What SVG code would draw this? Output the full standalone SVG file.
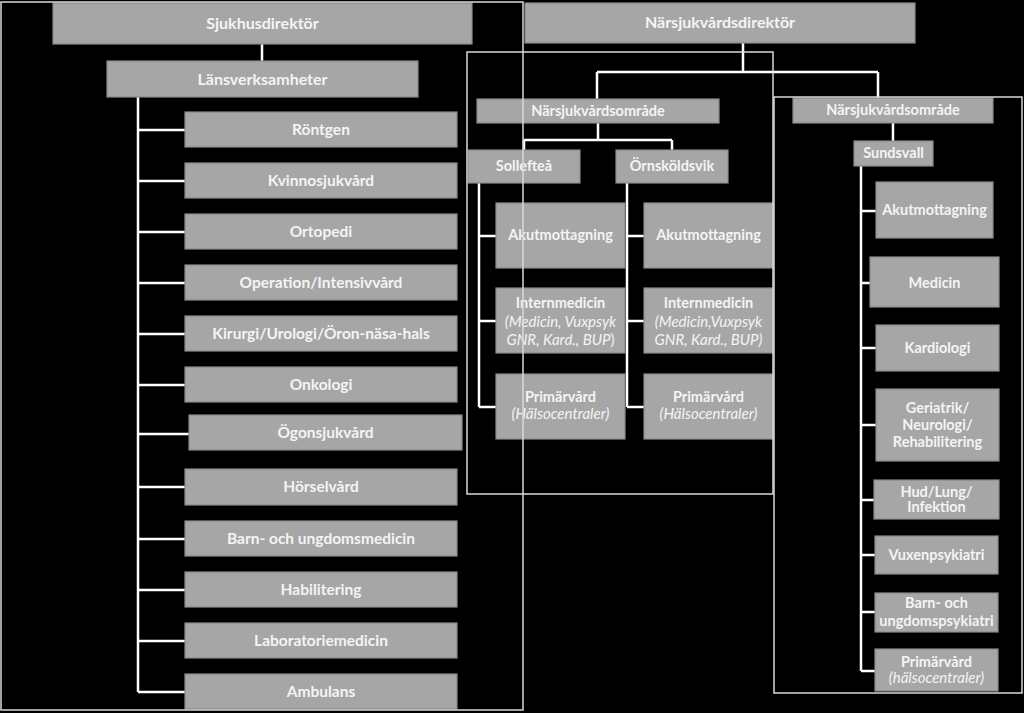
<svg xmlns="http://www.w3.org/2000/svg" width="1024" height="713" viewBox="0 0 1024 713">
<style>
.bg{fill:#000}
.box{fill:#a6a6a6;stroke:#8a8a8a;stroke-width:1.2}
.t{font-family:Lato,"Liberation Sans",sans-serif;font-weight:bold;fill:#f4f4f4;text-anchor:middle;font-size:14.5px}
.tl{font-size:15.5px}
.th{font-size:16px}
.ti{font-weight:normal;font-style:italic;font-size:15px}
.up{font-style:normal}
.conn{stroke:#ffffff;stroke-width:2.5;fill:none}
.frame{stroke:#d9d9d9;stroke-width:1.5;fill:none}
</style>
<rect class="bg" x="0" y="0" width="1024" height="713"/>

<g id="connectors">
<path class="conn" d="M262,44V61M138,97V692M138,130H185M138,181H185M138,232H185M138,283H185M138,334H185M138,385H185M138,434H189M138,487H185M138,539H185M138,590H185M138,641H185M138,692H185"/>
<path class="conn" d="M743,43V72M597,72H878M597,72V99M878,72V98M598,123V140M524,140H672M524,140V150M672,140V150"/>
<path class="conn" d="M479,183V407M479,236H496M479,321H496M479,407H496M627,183V407M627,236H644M627,321H644M627,407H644"/>
<path class="conn" d="M893,123V141M861,166V671M861,211H876M861,283H870M861,348H876M861,425H876M861,500H874M861,555H875M861,612H875M861,671H875"/>
</g>

<g id="sjukhusdirektor"><rect class="box" x="53" y="3" width="419" height="41"/><text class="t th" x="262.5" y="29">Sjukhusdirektör</text></g>
<g id="lansverksamheter"><rect class="box" x="107" y="61" width="311" height="36"/><text class="t th" x="262.5" y="85">Länsverksamheter</text></g>
<g id="rontgen"><rect class="box" x="185" y="112" width="272" height="35"/><text class="t tl" x="321" y="135">Röntgen</text></g>
<g id="kvinnosjukvard"><rect class="box" x="185" y="163" width="272" height="35"/><text class="t tl" x="321" y="186">Kvinnosjukvård</text></g>
<g id="ortopedi"><rect class="box" x="185" y="214" width="272" height="35"/><text class="t tl" x="321" y="237">Ortopedi</text></g>
<g id="operation"><rect class="box" x="185" y="265" width="272" height="35"/><text class="t tl" x="321" y="288">Operation/Intensivvård</text></g>
<g id="kirurgi"><rect class="box" x="185" y="316" width="272" height="35"/><text class="t tl" x="321" y="339">Kirurgi/Urologi/Öron-näsa-hals</text></g>
<g id="onkologi"><rect class="box" x="185" y="367" width="272" height="35"/><text class="t tl" x="321" y="390">Onkologi</text></g>
<g id="ogonsjukvard"><rect class="box" x="189" y="415" width="273" height="35"/><text class="t tl" x="325.5" y="438">Ögonsjukvård</text></g>
<g id="horselvard"><rect class="box" x="185" y="469" width="272" height="36"/><text class="t tl" x="321" y="492">Hörselvård</text></g>
<g id="barnmedicin"><rect class="box" x="185" y="521" width="272" height="35"/><text class="t tl" x="321" y="544">Barn- och ungdomsmedicin</text></g>
<g id="habilitering"><rect class="box" x="185" y="572" width="272" height="35"/><text class="t tl" x="321" y="595">Habilitering</text></g>
<g id="laboratoriemedicin"><rect class="box" x="185" y="623" width="272" height="35"/><text class="t tl" x="321" y="646">Laboratoriemedicin</text></g>
<g id="ambulans"><rect class="box" x="185" y="674" width="272" height="35"/><text class="t tl" x="321" y="697">Ambulans</text></g>

<g id="narsjukvardsdirektor"><rect class="box" x="525" y="3" width="390" height="40"/><text class="t th" x="720" y="28">Närsjukvårdsdirektör</text></g>
<g id="omrade1"><rect class="box" x="477" y="99" width="242" height="24"/><text class="t" x="598" y="116">Närsjukvårdsområde</text></g>
<g id="solleftea"><rect class="box" x="468" y="150" width="112" height="33"/><text class="t" x="524" y="171">Sollefteå</text></g>
<g id="ornskoldsvik"><rect class="box" x="616" y="150" width="112" height="33"/><text class="t" x="672" y="171">Örnsköldsvik</text></g>
<g id="akut1"><rect class="box" x="496" y="203" width="129" height="65"/><text class="t" x="560.5" y="240">Akutmottagning</text></g>
<g id="intern1"><rect class="box" x="496" y="288" width="129" height="65"/><text class="t" x="560.5" y="308">Internmedicin</text><text class="t ti" x="560.5" y="327">(Medicin, Vuxpsyk</text><text class="t ti" x="560.5" y="345">GNR, Kard., BUP<tspan class="up">)</tspan></text></g>
<g id="prim1"><rect class="box" x="496" y="374" width="129" height="65"/><text class="t" x="560.5" y="402">Primärvård</text><text class="t ti" x="560.5" y="419">(Hälsocentraler)</text></g>
<g id="akut2"><rect class="box" x="644" y="203" width="129" height="65"/><text class="t" x="708.5" y="240">Akutmottagning</text></g>
<g id="intern2"><rect class="box" x="644" y="288" width="129" height="65"/><text class="t" x="708.5" y="308">Internmedicin</text><text class="t ti" x="708.5" y="327">(Medicin,Vuxpsyk</text><text class="t ti" x="708.5" y="345">GNR, Kard., BUP)</text></g>
<g id="prim2"><rect class="box" x="644" y="374" width="129" height="65"/><text class="t" x="708.5" y="402">Primärvård</text><text class="t ti" x="708.5" y="419">(Hälsocentraler)</text></g>

<g id="omrade2"><rect class="box" x="793" y="98" width="200" height="25"/><text class="t" x="893" y="115">Närsjukvårdsområde</text></g>
<g id="sundsvall"><rect class="box" x="854" y="141" width="79" height="25"/><text class="t" x="893.5" y="158">Sundsvall</text></g>
<g id="akut3"><rect class="box" x="876" y="182" width="117" height="56"/><text class="t" x="934.5" y="215">Akutmottagning</text></g>
<g id="medicin"><rect class="box" x="870" y="257" width="129" height="50"/><text class="t" x="934.5" y="288">Medicin</text></g>
<g id="kardiologi"><rect class="box" x="876" y="325" width="123" height="46"/><text class="t" x="937.5" y="353">Kardiologi</text></g>
<g id="geriatrik"><rect class="box" x="876" y="389" width="123" height="72"/><text class="t" x="937.5" y="413">Geriatrik/</text><text class="t" x="937.5" y="430">Neurologi/</text><text class="t" x="937.5" y="447">Rehabilitering</text></g>
<g id="hudlung"><rect class="box" x="874" y="480" width="125" height="39"/><text class="t" x="936.5" y="497">Hud/Lung/</text><text class="t" x="936.5" y="512">Infektion</text></g>
<g id="vuxenpsykiatri"><rect class="box" x="875" y="536" width="123" height="38"/><text class="t" x="936.5" y="560">Vuxenpsykiatri</text></g>
<g id="barnpsykiatri"><rect class="box" x="875" y="593" width="123" height="39"/><text class="t" x="936.5" y="608">Barn- och</text><text class="t" x="936.5" y="626">ungdomspsykiatri</text></g>
<g id="prim3"><rect class="box" x="875" y="649" width="123" height="42"/><text class="t" x="936.5" y="667">Primärvård</text><text class="t ti" x="936.5" y="683">(hälsocentraler)</text></g>

<g id="frames">
<rect class="frame" x="1" y="2" width="522" height="708"/>
<rect class="frame" x="467" y="52" width="306" height="442"/>
<rect class="frame" x="774" y="97" width="248" height="596"/>
</g>
</svg>
